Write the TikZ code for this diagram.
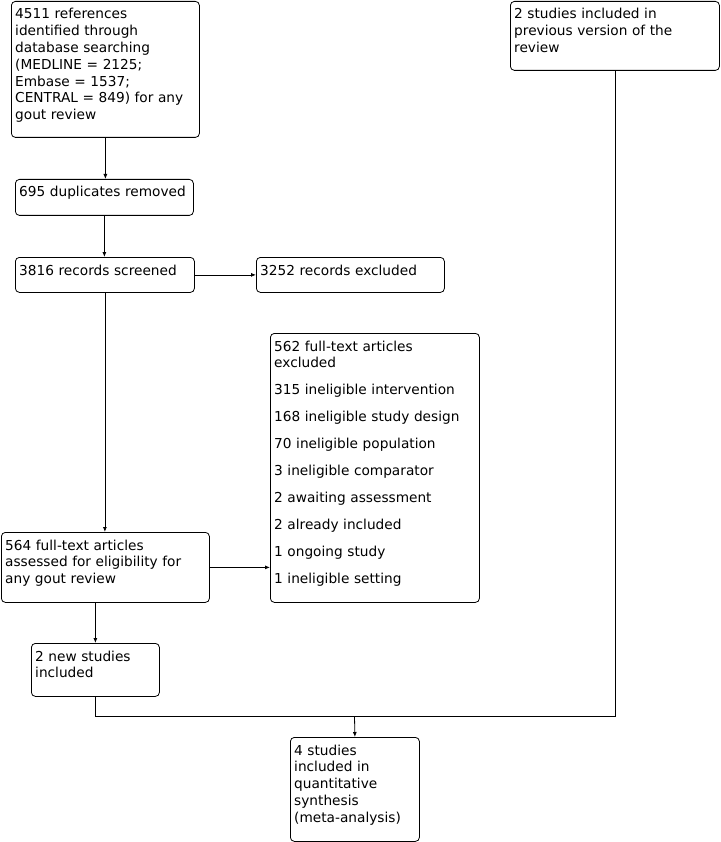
\documentclass[tikz,border=0pt]{standalone}
\usepackage{fontspec}
\setmainfont{DejaVu Sans}
\usetikzlibrary{arrows.meta}
\tikzset{
  box/.style={draw=black, line width=0.8pt, rounded corners=4pt, anchor=north west, inner sep=0pt, fill=white},
  txt/.style={anchor=base west, inner sep=0pt, align=left, font=\fontsize{13.7}{16.8}\selectfont},
  line/.style={draw=black, line width=0.8pt},
  arr/.style={line, -{Latex[length=5pt,width=4pt]}}
}
\newcommand{\mkbox}[6]{%
  \node[box, minimum width=#4pt, minimum height=#5pt] (#1) at (#2,#3) {};
  \node[txt, text width=#4pt-8pt] (#1t) at ([xshift=4pt,yshift=-18pt]#1.north west) {#6};
}
\begin{document}
\begin{tikzpicture}[x=1pt,y=-1pt]
\useasboundingbox[fill=white] (0,0) rectangle (720,842);
\mkbox{A}{11}{1}{188}{136}{4511 references\\identified through\\database searching\\(MEDLINE = 2125;\\Embase = 1537;\\CENTRAL = 849) for any\\gout review}
\mkbox{B}{510}{1}{209}{69}{2 studies included in\\previous version of the\\review}
\mkbox{C}{15}{179}{178}{36}{695 duplicates removed}
\mkbox{D}{15}{257}{179}{35}{3816 records screened}
\mkbox{E}{256}{257}{188}{35}{3252 records excluded}
\mkbox{F}{270}{333}{209}{269}{562 full-text articles\\excluded\\[10.2pt]315 ineligible intervention\\[10.2pt]168 ineligible study design\\[10.2pt]70 ineligible population\\[10.2pt]3 ineligible comparator\\[10.2pt]2 awaiting assessment\\[10.2pt]2 already included\\[10.2pt]1 ongoing study\\[10.2pt]1 ineligible setting}
\mkbox{G}{1}{532}{208}{70}{564 full-text articles\\assessed for eligibility for\\any gout review}
\mkbox{H}{31}{643}{128}{53}{2 new studies\\included}
\mkbox{I}{290}{737}{129}{104}{4 studies\\included in\\quantitative\\synthesis\\(meta-analysis)}
\draw[arr] (A.south) -- (A.south |- C.north);
\draw[arr] (C.south) -- (C.south |- D.north);
\draw[arr] (D.east) -- (E.west);
\draw[arr] (D.south) -- (D.south |- G.north);
\draw[arr] (G.east) -- (G.east -| F.west);
\draw[arr] (H.north |- G.south) -- (H.north);
\coordinate (j) at (354.5,716);
\draw[line] (H.south) |- (j);
\draw[line] (B.south) |- (j);
\draw[arr] (j) -- (I.north);
\end{tikzpicture}
\end{document}
